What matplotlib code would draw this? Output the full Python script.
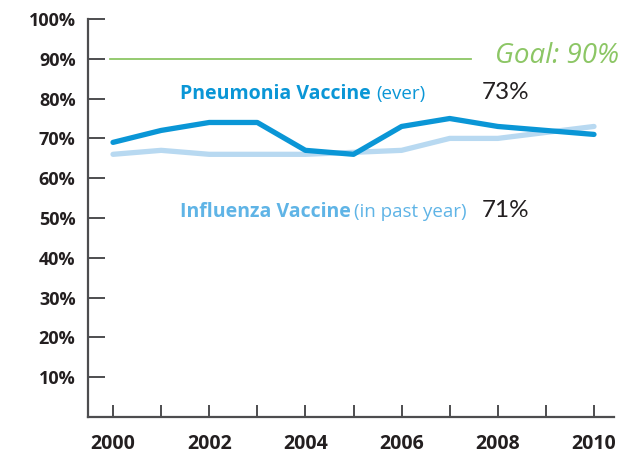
import numpy as np
import matplotlib.pyplot as plt

years = [2000, 2001, 2002, 2003, 2004, 2005, 2006, 2007, 2008, 2009, 2010]
pneumonia = [69, 72, 74, 74, 67, 66, 73, 75, 73, 72, 71]
influenza = [66, 67, 66, 66, 66, 66.5, 67, 70, 70, 71.5, 73]
goal = 90
yticks = [10, 20, 30, 40, 50, 60, 70, 80, 90, 100]
xticks = list(range(2000, 2011))
xlabels = ['2000', '', '2002', '', '2004', '', '2006', '', '2008', '', '2010']

dark = '#0a96d6'
light = '#b8d9f1'
light_txt = '#5fb4e6'
green = '#8cc665'
ink = '#231f20'
axis_col = '#4d4d4f'

W, H = 626, 457
fig = plt.figure(figsize=(W / 100, H / 100), dpi=100)
ax = fig.add_axes([88 / W, (H - 417) / H, (614 - 88) / W, (417 - 19) / H])

def label(x, y, s, **kw):
    # x, y in pixels from top-left, y is the baseline
    fig.text(x / W, 1 - y / H, s, va='baseline', ha='left', **kw)

ax.plot(years, influenza, color=light, lw=3.8, solid_capstyle='round', zorder=2)
ax.plot(years, pneumonia, color=dark, lw=3.8, solid_capstyle='round', zorder=3)
ax.plot([1999.94, 2007.44], [goal, goal], color=green, lw=1.3)

ax.set_xlim(1999.48, 2010.416)
ax.set_ylim(0, 100)
for s in ['top', 'right']:
    ax.spines[s].set_visible(False)
for s in ['left', 'bottom']:
    ax.spines[s].set_color(axis_col)
    ax.spines[s].set_linewidth(1.6)

ax.set_yticks(yticks)
ax.set_yticklabels([f'{v}%' for v in yticks], fontsize=13, fontweight='bold',
                   color=ink, family='Open Sans', fontstretch='normal')
ax.set_xticks(xticks)
ax.set_xticklabels(xlabels, fontsize=14, fontweight='bold', color=ink,
                   family='Open Sans', fontstretch='condensed')
ax.tick_params(axis='y', direction='in', length=12, width=1.4, color=axis_col, pad=9)
ax.tick_params(axis='x', direction='in', length=9, width=1.4, color=axis_col, pad=12)

label(495, 63, 'Goal: 90%', color=green, fontsize=20, style='italic',
      family='Open Sans', fontstretch='normal')

label(180, 99, 'Pneumonia Vaccine', color=dark, fontsize=14, fontweight='bold',
      family='Open Sans', fontstretch='condensed')
label(376, 99, '(ever)', color=dark, fontsize=13.5, family='Open Sans',
      fontstretch='normal')
label(482, 99, '73%', color=ink, fontsize=17.5, family='Lato')

label(180, 217, 'Influenza Vaccine', color=light_txt, fontsize=14, fontweight='bold',
      family='Open Sans', fontstretch='condensed')
label(354, 217, '(in past year)', color=light_txt, fontsize=13.5, family='Open Sans',
      fontstretch='normal')
label(482, 217, '71%', color=ink, fontsize=17.5, family='Lato')

fig.savefig('out.png', dpi=100)
